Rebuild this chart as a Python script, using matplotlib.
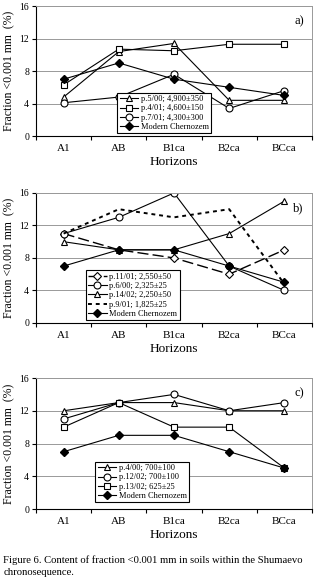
import matplotlib
matplotlib.use("Agg")
import matplotlib.pyplot as plt

plt.rcParams['font.family'] = ['Liberation Serif', 'DejaVu Serif']

horizons = ['A1', 'AB', 'B1ca', 'B2ca', 'BCca']
modern = [7, 9, 7, 6, 5]
modern_bc = [7, 9, 9, 7, 5]

# panel a
a_labels = ['p.5/00; 4,900\u00b1350', 'p.4/01; 4,600\u00b1150', 'p.7/01; 4,300\u00b1300']
a_p5_00 = [4.8, 10.4, 11.4, 4.4, 4.4]
a_p4_01 = [6.3, 10.7, 10.5, 11.3, 11.3]
a_p7_01 = [4.1, 4.8, 7.6, 3.4, 5.6]

# panel b
b_labels = ['p.11/01; 2,550\u00b150', 'p.6/00; 2,325\u00b125',
            'p.14/02; 2,250\u00b150', 'p.9/01; 1,825\u00b125']
b_p11_01 = [11, 9, 8, 6, 9]
b_p6_00 = [11, 13, 16, 7, 4]
b_p14_02 = [10, 9, 9, 11, 15]
b_p9_01 = [11, 14, 13, 14, 4.8]

# panel c
c_labels = ['p.4/00; 700\u00b1100', 'p.12/02; 700\u00b1100', 'p.13/02; 625\u00b125']
c_p4_00 = [12, 13, 13, 12, 12]
c_p12_02 = [11, 13, 14, 12, 13]
c_p13_02 = [10, 13, 10, 10, 5]

x = list(range(len(horizons)))
fig = plt.figure(figsize=(3.2, 5.84), dpi=100)

open_kw = dict(color='black', lw=0.8, markersize=5, markerfacecolor='white',
               markeredgecolor='black', markeredgewidth=0.8)
mod_kw = dict(color='black', lw=0.8, marker='D', markersize=4,
              markerfacecolor='black', label='Modern Chernozem')


def setup(ax, tag):
    ax.set_xlim(-0.5, 4.5)
    ax.set_ylim(0, 16)
    ax.set_yticks([0, 4, 8, 12, 16])
    ax.set_yticklabels(['0', '4', '8', '12', '16'], fontsize=7)
    ax.grid(axis='y', color='#999999', lw=0.7)
    ax.set_axisbelow(True)
    ax.set_xticks([-0.5, 0.5, 1.5, 2.5, 3.5, 4.5])
    ax.set_xticklabels([])
    ax.set_xticks(x, minor=True)
    ax.set_xticklabels(horizons, minor=True, fontsize=8)
    ax.tick_params(axis='x', which='minor', length=0, pad=6)
    ax.tick_params(axis='x', which='major', length=3, width=0.8)
    ax.tick_params(axis='y', length=3, width=0.8, pad=2)
    ax.spines['top'].set_color('#999999')
    ax.spines['right'].set_color('#999999')
    ax.spines['top'].set_linewidth(0.7)
    ax.spines['right'].set_linewidth(0.7)
    ax.set_xlabel('Horizons', fontsize=9.5, labelpad=2)
    ax.set_ylabel('Fraction <0.001 mm  (%)', fontsize=8.5, labelpad=3)
    ax.text(0.97, 0.88, tag, transform=ax.transAxes, ha='right', va='center', fontsize=9)


def legend(ax, loc):
    lg = ax.legend(loc='lower left', bbox_to_anchor=loc, fontsize=6, frameon=True,
                   fancybox=False, edgecolor='black', framealpha=1,
                   handlelength=2.2, handletextpad=0.3, borderpad=0.3,
                   labelspacing=0.15, borderaxespad=0)
    lg.get_frame().set_linewidth(0.8)


ax = fig.add_axes([0.1125, 0.767, 0.8625, 0.2226])
ax.plot(x, a_p5_00, marker='^', label=a_labels[0], **open_kw)
ax.plot(x, a_p4_01, marker='s', label=a_labels[1], **open_kw)
ax.plot(x, a_p7_01, marker='o', label=a_labels[2], **open_kw)
ax.plot(x, modern, **mod_kw)
setup(ax, 'a)')
legend(ax, (0.295, 0.02))

ax = fig.add_axes([0.1125, 0.447, 0.8625, 0.2226])
ax.plot(x, b_p11_01, marker='D', ls=(0, (8, 3)), label=b_labels[0],
        **{**open_kw, 'markersize': 4, 'lw': 1.0})
ax.plot(x, b_p6_00, marker='o', label=b_labels[1], **open_kw)
ax.plot(x, b_p14_02, marker='^', label=b_labels[2], **open_kw)
ax.plot(x, b_p9_01, color='black', lw=1.4, ls=(0, (2, 2)), label=b_labels[3])
ax.plot(x, modern_bc, **mod_kw)
setup(ax, 'b)')
legend(ax, (0.18, 0.02))

ax = fig.add_axes([0.1125, 0.1284, 0.8625, 0.2243])
ax.plot(x, c_p4_00, marker='^', label=c_labels[0], **open_kw)
ax.plot(x, c_p12_02, marker='o', label=c_labels[1], **open_kw)
ax.plot(x, c_p13_02, marker='s', label=c_labels[2], **open_kw)
ax.plot(x, modern_bc, **mod_kw)
setup(ax, 'c)')
legend(ax, (0.215, 0.05))

fig.text(0.01, 0.041, 'Figure 6. Content of fraction <0.001 mm in soils within the Shumaevo',
         fontsize=7.7, ha='left', va='center')
fig.text(0.01, 0.019, 'chronosequence.', fontsize=7.7, ha='left', va='center')

fig.savefig('out.png', dpi=100)
